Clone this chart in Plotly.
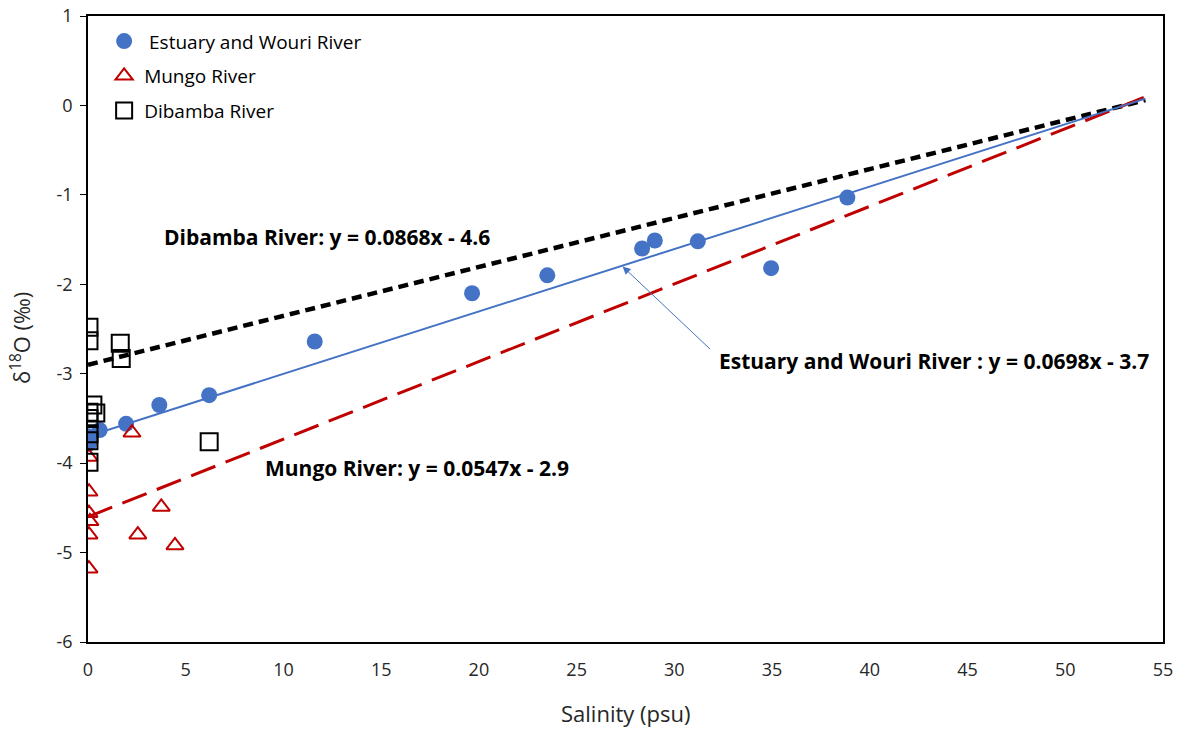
import plotly.graph_objects as go

# ---- data ----
est_x = [38.85, 34.95, 31.2, 29.0, 28.35, 23.5, 19.65, 11.6, 6.2, 3.65, 1.95, 0.6, 0.05, 0.05]
est_y = [-1.03, -1.82, -1.52, -1.51, -1.60, -1.90, -2.10, -2.64, -3.24, -3.35, -3.56, -3.63, -3.70, -3.78]

mungo_x = [2.25, 3.75, 2.55, 4.45, 0.05, 0.05, 0.05, 0.1, 0.05, 0.05]
mungo_y = [-3.66, -4.49, -4.80, -4.92, -3.93, -4.32, -4.56, -4.65, -4.80, -5.18]

dib_x = [0.05, 0.05, 1.65, 1.7, 0.25, 0.4, 0.05, 0.05, 0.05, 0.05, 0.05, 6.2]
dib_y = [-2.48, -2.63, -2.66, -2.83, -3.35, -3.44, -3.43, -3.50, -3.67, -3.75, -3.99, -3.76]

# trendlines (slope, intercept) as drawn, over the x range shown
trend_names = ["Estuary trend", "Red dashed trend", "Black dashed trend"]
trend_slope = [0.0698, 0.0868, 0.0547]
trend_intercept = [-3.7, -4.6, -2.9]
trend_range = [0, 54.1]

x_ticks = [0, 5, 10, 15, 20, 25, 30, 35, 40, 45, 50, 55]
y_ticks = [-6, -5, -4, -3, -2, -1, 0, 1]
y_tick_labels = ["-6", "-5", "-4", "-3", "-2", "-1", "0", "1"]

BLUE = "#4472C4"
RED = "#C00000"
FONT = "Open Sans"
TXT = "#262626"

fig = go.Figure()

def tl(i):
    return [trend_slope[i] * x + trend_intercept[i] for x in trend_range]

fig.add_trace(go.Scatter(x=trend_range, y=tl(2), mode="lines", showlegend=False,
                         line=dict(color="black", width=4.5, dash="10px,6px"), hoverinfo="skip"))
fig.add_trace(go.Scatter(x=trend_range, y=tl(1), mode="lines", showlegend=False,
                         line=dict(color=RED, width=3, dash="26px,11px"), hoverinfo="skip"))
fig.add_trace(go.Scatter(x=trend_range, y=tl(0), mode="lines", showlegend=False,
                         line=dict(color=BLUE, width=2), hoverinfo="skip"))

fig.add_trace(go.Scatter(x=est_x, y=est_y, mode="markers", name=" Estuary and Wouri River",
                         legendgroup="a",
                         marker=dict(symbol="circle", size=16, color=BLUE)))
fig.add_trace(go.Scatter(x=mungo_x, y=mungo_y, mode="markers", name="Mungo River",
                         legendgroup="b",
                         marker=dict(symbol="triangle-up-open", size=15, color=RED,
                                     line=dict(width=2, color=RED))))
fig.add_trace(go.Scatter(x=dib_x, y=dib_y, mode="markers", name="Dibamba River",
                         legendgroup="c",
                         marker=dict(symbol="square-open", size=17, color="black",
                                     line=dict(width=2, color="black"))))

ann_font = dict(family=FONT, size=21, color="black")
fig.add_annotation(x=3.8, y=-1.47, xref="x", yref="y", text="<b>Dibamba River: y = 0.0868x - 4.6</b>",
                   showarrow=False, xanchor="left", yanchor="middle", font=ann_font)
fig.add_annotation(x=32.2, y=-2.86, xref="x", yref="y", text="<b>Estuary and Wouri River : y = 0.0698x - 3.7</b>",
                   showarrow=False, xanchor="left", yanchor="middle", font=ann_font)
fig.add_annotation(x=8.95, y=-4.05, xref="x", yref="y", text="<b>Mungo River: y = 0.0547x - 2.9</b>",
                   showarrow=False, xanchor="left", yanchor="middle", font=ann_font)
fig.add_annotation(x=27.35, y=-1.80, ax=31.9, ay=-2.74, xref="x", yref="y", axref="x", ayref="y",
                   text="", showarrow=True, arrowhead=2, arrowsize=1.6, arrowwidth=1,
                   arrowcolor=BLUE)
# axis titles
fig.add_annotation(x=-0.063, y=0.486, xref="paper", yref="paper", text="δ<sup>18</sup>O (‰)",
                   textangle=-90, showarrow=False, xanchor="center", yanchor="middle",
                   font=dict(family=FONT, size=22, color=TXT))
fig.add_annotation(x=0.5, y=-0.1134, xref="paper", yref="paper", text="Salinity (psu)",
                   showarrow=False, xanchor="center", yanchor="middle",
                   font=dict(family=FONT, size=22, color=TXT))

fig.update_layout(
    width=1185, height=729,
    margin=dict(l=88, r=22, t=16, b=87, autoexpand=False),
    paper_bgcolor="white", plot_bgcolor="white",
    font=dict(family=FONT, size=17, color=TXT),
    legend=dict(x=0.015, y=0.99, xanchor="left", yanchor="top",
                font=dict(family=FONT, size=19, color="black"),
                bgcolor="rgba(0,0,0,0)", tracegroupgap=7),
    xaxis=dict(range=[0, 55], tickvals=x_ticks, showgrid=False, zeroline=False,
               showline=True, linecolor="black", linewidth=1.5, mirror=True,
               ticks="", ticklabelstandoff=11, automargin=False,
               tickfont=dict(family=FONT, size=18, color=TXT)),
    yaxis=dict(range=[-6, 1], tickvals=y_ticks, ticktext=y_tick_labels, showgrid=False, zeroline=False,
               showline=True, linecolor="black", linewidth=1.5, mirror=True, automargin=False,
               ticks="outside", ticklen=6, tickcolor="black", ticklabelstandoff=4,
               tickfont=dict(family=FONT, size=18, color=TXT)),
)

fig.write_html("out.html")
